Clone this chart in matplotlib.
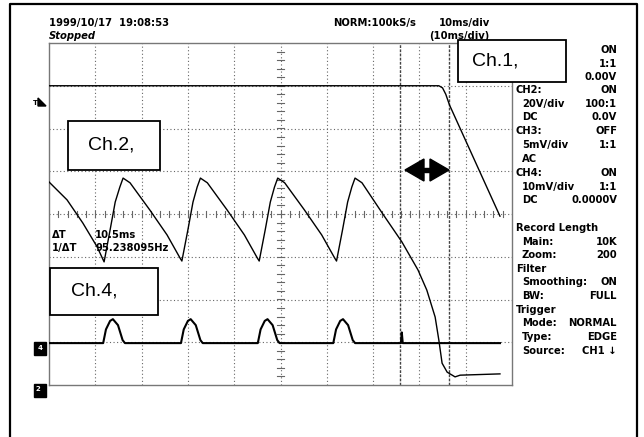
import matplotlib.pyplot as plt
from matplotlib.patches import Rectangle, Polygon
import numpy as np

# screen capture of a digital scope, 10 ms/div, 8 vertical divisions
# traces: time in ms, level in divisions from centre

ch1_t = [0, 84.2, 85.0, 85.7, 86.5, 97.4]
ch1_v = [3.0, 3.0, 2.95, 2.8, 2.55, -0.05]

ch2_t = [0, 3.9, 7.3, 10.4, 11.9,
         13.2, 14.3, 15.3, 16.0, 17.5, 21.8, 25.5, 28.3, 28.7,
         30.0, 31.1, 32.0, 32.7, 34.2, 38.5, 42.2, 45.0, 45.4,
         46.7, 47.8, 48.7, 49.4, 50.9, 55.2, 58.9, 61.7, 62.1,
         63.4, 64.5, 65.4, 66.1, 67.6, 72.1, 76.2, 79.7, 81.6, 83.4,
         84.2, 84.9, 86.0, 87.7, 88.8, 97.4]
ch2_v = [0.75, 0.33, -0.21, -0.77, -1.12,
         -0.37, 0.28, 0.63, 0.84, 0.73, 0.09, -0.49, -1.03, -1.10,
         -0.37, 0.28, 0.63, 0.84, 0.73, 0.09, -0.49, -1.03, -1.10,
         -0.37, 0.28, 0.63, 0.84, 0.73, 0.09, -0.49, -1.03, -1.10,
         -0.37, 0.28, 0.63, 0.84, 0.73, 0.0, -0.65, -1.31, -1.78, -2.41,
         -2.95, -3.49, -3.70, -3.81, -3.77, -3.74]

ch4_t = [0, 11.7, 12.3, 13.2, 13.8, 14.9, 15.9, 16.4,
         28.5, 29.1, 30.0, 30.6, 31.7, 32.7, 33.2,
         45.1, 45.7, 46.6, 47.2, 48.3, 49.3, 49.8,
         61.4, 62.0, 62.9, 63.5, 64.6, 65.6, 66.1,
         76.0, 76.2, 76.4, 97.4]
ch4_v = [-3.02, -3.02, -2.7, -2.5, -2.46, -2.6, -2.95, -3.02,
         -3.02, -2.7, -2.5, -2.46, -2.6, -2.95, -3.02,
         -3.02, -2.7, -2.5, -2.46, -2.6, -2.95, -3.02,
         -3.02, -2.7, -2.5, -2.46, -2.6, -2.95, -3.02,
         -3.02, -2.77, -3.02, -3.02]

cursors = [75.9, 86.4]

# right hand settings panel: (row y in px, left label, indent, right value)
panel = [
    (50, None, 0, "ON"), (64, None, 0, "1:1"), (77, None, 0, "0.00V"),
    (90, "CH2:", 0, "ON"), (104, "20V/div", 1, "100:1"), (117, "DC", 1, "0.0V"),
    (131, "CH3:", 0, "OFF"), (145, "5mV/div", 1, "1:1"), (159, "AC", 1, None),
    (173, "CH4:", 0, "ON"), (187, "10mV/div", 1, "1:1"), (200, "DC", 1, "0.0000V"),
    (228, "Record Length", 0, None), (242, "Main:", 1, "10K"), (255, "Zoom:", 1, "200"),
    (269, "Filter", 0, None), (282, "Smoothing:", 1, "ON"), (296, "BW:", 1, "FULL"),
    (310, "Trigger", 0, None), (323, "Mode:", 1, "NORMAL"), (337, "Type:", 1, "EDGE"),
    (351, "Source:", 1, "CH1 \u2193"),
]

W, H = 644, 437
def fx(x):
    return x / W
def fy(y):
    return 1 - y / H

plt.rcParams['font.family'] = ['DejaVu Sans']
small = dict(fontsize=7.2, fontweight='bold', color='black')

fig = plt.figure(figsize=(6.44, 4.37), dpi=100)
fig.patch.set_facecolor('white')

# outer frame
fig.add_artist(plt.Line2D([fx(10), fx(10), fx(637), fx(637)],
                          [0, fy(4), fy(4), 0], color='black', lw=1.6,
                          transform=fig.transFigure))

ax = fig.add_axes([fx(49), fy(385), (512 - 49) / W, (385 - 43) / H])
ax.set_xlim(0, 100)
ax.set_ylim(-4, 4)
ax.set_xticks([])
ax.set_yticks([])
for s in ax.spines.values():
    s.set_color('#777777')
    s.set_linewidth(1.0)

dot = (0, (1, 2.2))
for x in range(10, 100, 10):
    ax.axvline(x, color='#666666', lw=0.8, ls=dot, zorder=1)
for y in range(-3, 4):
    ax.axhline(y, color='#666666', lw=0.8, ls=dot, zorder=1)

# tick marks on the centre cross
for t in np.arange(2, 100, 2):
    ax.plot([t, t], [-0.07, 0.07], color='#666666', lw=0.8, zorder=1)
for v in np.arange(-3.8, 4, 0.2):
    ax.plot([49.3, 50.7], [v, v], color='#666666', lw=0.8, zorder=1)

for c in cursors:
    ax.axvline(c, color='#444444', lw=1.0, ls=(0, (2, 1)), zorder=1)

ax.plot(ch1_t, ch1_v, color='black', lw=1.0, zorder=3)
ax.plot(ch2_t, ch2_v, color='black', lw=1.0, zorder=3)
ax.plot(ch4_t, ch4_v, color='black', lw=1.5, zorder=3)

ax.text(0.7, -0.56, "\u0394T", **small)
ax.text(10.0, -0.56, "10.5ms", **small)
ax.text(0.7, -0.86, "1/\u0394T", **small)
ax.text(10.0, -0.86, "95.238095Hz", **small)

# header
fig.text(fx(49), fy(23), "1999/10/17  19:08:53", va='center', **small)
fig.text(fx(49), fy(36), "Stopped", va='center', style='italic', **small)
fig.text(fx(333), fy(23), "NORM:100kS/s", va='center', **small)
fig.text(fx(439), fy(23), "10ms/div", va='center', **small)
fig.text(fx(429), fy(36), "(10ms/div)", va='center', **small)

for y, lab, ind, val in panel:
    if lab:
        fig.text(fx(516 + 6 * ind), fy(y), lab, va='center', **small)
    if val:
        fig.text(fx(617), fy(y), val, va='center', ha='right', **small)

# left side markers
fig.text(fx(33), fy(103), "T", va='center', fontsize=5, fontweight='bold')
fig.add_artist(Polygon([[fx(38), fy(98)], [fx(46), fy(106)], [fx(38), fy(106)]],
                       closed=True, color='black', transform=fig.transFigure))
fig.add_artist(Rectangle((fx(34), fy(355)), 12 / W, 13 / H, color='black',
                         transform=fig.transFigure))
fig.text(fx(40), fy(348), "4", color='white', fontsize=5, fontweight='bold',
         ha='center', va='center')
fig.add_artist(Rectangle((fx(34), fy(397)), 12 / W, 13 / H, color='black',
                         transform=fig.transFigure))
fig.text(fx(38), fy(389), "2", color='white', fontsize=5, fontweight='bold',
         ha='center', va='center')

# cursor arrows
fig.add_artist(Polygon([[fx(405), fy(170)], [fx(424), fy(159)], [fx(424), fy(181)]],
                       closed=True, color='black', transform=fig.transFigure))
fig.add_artist(Polygon([[fx(449), fy(170)], [fx(430), fy(159)], [fx(430), fy(181)]],
                       closed=True, color='black', transform=fig.transFigure))
fig.add_artist(Rectangle((fx(424), fy(172)), 6 / W, 4 / H, color='black',
                         transform=fig.transFigure))

# channel label boxes
boxes = [("Ch.1,", 458, 40, 566, 82, 472),
         ("Ch.2,", 68, 121, 160, 170, 88),
         ("Ch.4,", 50, 268, 158, 315, 71)]
for lab, x0, y0, x1, y1, tx in boxes:
    fig.add_artist(Rectangle((fx(x0), fy(y1)), (x1 - x0) / W, (y1 - y0) / H,
                             facecolor='white', edgecolor='black', lw=1.3,
                             transform=fig.transFigure, zorder=5))
    fig.text(fx(tx), fy((y0 + y1) / 2), lab, fontsize=14, family='Liberation Sans',
             va='center', zorder=6)

fig.savefig("out.png", dpi=100)
